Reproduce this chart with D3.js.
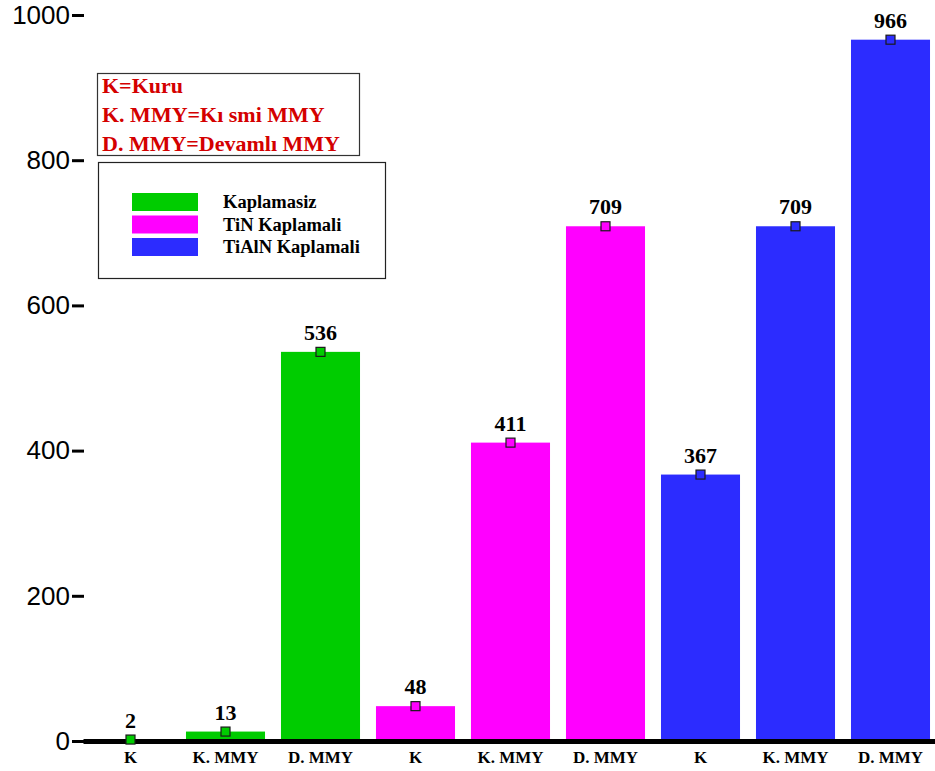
<!DOCTYPE html>
<html>
<head>
<meta charset="utf-8">
<script src="https://cdn.jsdelivr.net/npm/d3@7"></script>
<style>
  html, body { margin: 0; padding: 0; background: #fff; }
  svg { display: block; }
</style>
</head>
<body>
<svg id="chart" width="935" height="771"></svg>
<script>
// Conditions per coating: K = dry, K. MMY = partial MQL, D. MMY = continuous MQL
const conditions = ["K", "K. MMY", "D. MMY"];
const coatings = ["Kaplamasiz", "TiN Kaplamali", "TiAlN Kaplamali"];
const kaplamasizValues = [2, 13, 536];
const tinValues = [48, 411, 709];
const tialnValues = [367, 709, 966];
const coatingColors = ["#00cc00", "#ff00ff", "#2c2cff"];
const yTicks = [0, 200, 400, 600, 800, 1000];
const noteLines = ["K=Kuru", "K. MMY=Kı smi MMY", "D. MMY=Devamlı MMY"];

const seriesValues = [kaplamasizValues, tinValues, tialnValues];
const bars = [];
seriesValues.forEach((vals, s) => {
  vals.forEach((v, c) => {
    bars.push({ index: bars.length, series: s, cond: conditions[c], value: v });
  });
});

const svg = d3.select("#chart");

const x = d3.scaleBand()
  .domain(bars.map(d => d.index))
  .range([83, 938])
  .paddingInner(0.168)
  .paddingOuter(0.084);

const y = d3.scaleLinear().domain([0, 1000]).range([741, 15]);

// Bars
svg.append("g").selectAll("rect")
  .data(bars)
  .join("rect")
  .attr("x", d => x(d.index))
  .attr("y", d => y(d.value))
  .attr("width", x.bandwidth())
  .attr("height", d => y(0) - y(d.value))
  .attr("fill", d => coatingColors[d.series]);

// Y axis: short tick dashes with labels, no spine
const yAxis = svg.append("g")
  .attr("transform", "translate(84,0)")
  .call(d3.axisLeft(y).tickValues(yTicks).tickSize(12).tickPadding(2).tickFormat(d3.format("d")));
yAxis.select(".domain").remove();
yAxis.selectAll(".tick line").attr("stroke", "#000").attr("stroke-width", 3);
yAxis.selectAll(".tick text")
  .attr("font-family", "'Liberation Sans', Arial, sans-serif")
  .attr("font-size", 26)
  .attr("fill", "#000");

// X axis: thick baseline with condition labels
const xAxis = svg.append("g")
  .attr("transform", `translate(0,${y(0)})`)
  .call(d3.axisBottom(x).tickSize(0).tickPadding(10).tickFormat(i => bars[i].cond));
xAxis.select(".domain").attr("stroke", "#000").attr("stroke-width", 5);
xAxis.selectAll(".tick text")
  .attr("font-family", "'Liberation Serif', 'Times New Roman', serif")
  .attr("font-weight", "bold")
  .attr("font-size", 17)
  .attr("fill", "#000");

// Point markers at bar tops
svg.append("g").selectAll("rect")
  .data(bars)
  .join("rect")
  .attr("x", d => x(d.index) + x.bandwidth() / 2 - 4.5)
  .attr("y", d => y(d.value) - 4.5)
  .attr("width", 9)
  .attr("height", 9)
  .attr("fill", d => coatingColors[d.series])
  .attr("stroke", "#1a1a1a")
  .attr("stroke-width", 1.2);

// Value labels
svg.append("g").selectAll("text")
  .data(bars)
  .join("text")
  .attr("x", d => x(d.index) + x.bandwidth() / 2)
  .attr("y", d => y(d.value) - 12)
  .attr("text-anchor", "middle")
  .attr("font-family", "'Liberation Serif', 'Times New Roman', serif")
  .attr("font-weight", "bold")
  .attr("font-size", 22)
  .attr("fill", "#000")
  .text(d => d.value);

// Abbreviation note box
const note = svg.append("g");
note.append("rect")
  .attr("x", 97.5).attr("y", 73.5).attr("width", 262).attr("height", 82)
  .attr("fill", "#fff").attr("stroke", "#333").attr("stroke-width", 1.2);
note.selectAll("text")
  .data(noteLines)
  .join("text")
  .attr("x", 102)
  .attr("y", (d, i) => 93 + i * 29)
  .attr("font-family", "'Liberation Serif', 'Times New Roman', serif")
  .attr("font-weight", "bold")
  .attr("font-size", 22)
  .attr("fill", "#d40000")
  .text(d => d);

// Coating legend
const legend = svg.append("g");
legend.append("rect")
  .attr("x", 98.5).attr("y", 162.5).attr("width", 287).attr("height", 116)
  .attr("fill", "#fff").attr("stroke", "#222").attr("stroke-width", 1.2);
const items = legend.selectAll("g.item")
  .data(coatings)
  .join("g")
  .attr("class", "item")
  .attr("transform", (d, i) => `translate(0,${193 + i * 22.5})`);
items.append("rect")
  .attr("x", 132).attr("y", 0).attr("width", 66).attr("height", 18)
  .attr("fill", (d, i) => coatingColors[i]);
items.append("text")
  .attr("x", 223).attr("y", 15)
  .attr("font-family", "'Liberation Serif', 'Times New Roman', serif")
  .attr("font-weight", "bold")
  .attr("font-size", 18.5)
  .attr("fill", "#000")
  .text(d => d);
</script>
</body>
</html>
